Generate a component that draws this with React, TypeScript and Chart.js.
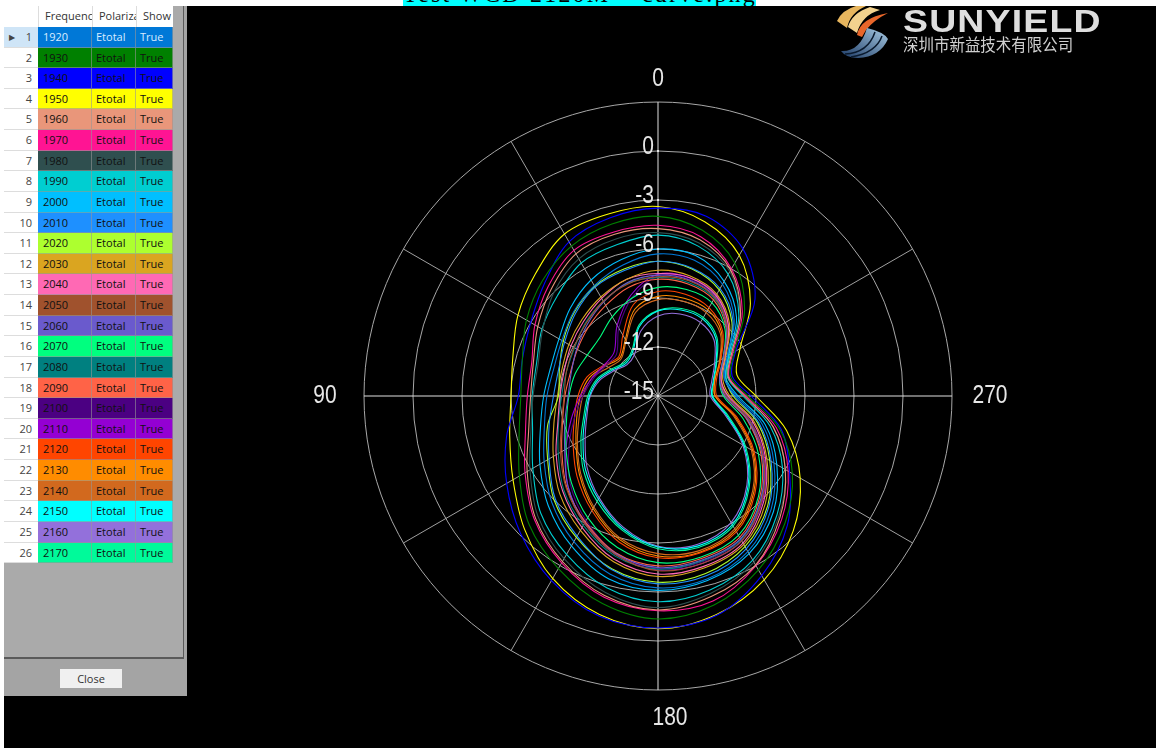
import React, { useEffect, useRef } from "react";
import { Chart, registerables } from "chart.js";

Chart.register(...registerables);

// Angles of the readings, counter-clockwise from the top of the plot
const angles = [0, 15, 30, 45, 60, 75, 90, 105, 120, 135, 150, 165, 180, 195, 210, 225, 240, 255, 270, 285, 300, 315, 330, 345];

const s1920 = [-6.3, -6.7, -7.2, -7.7, -8.2, -8.4, -8.2, -7.8, -6.95, -5.8, -4.7, -3.7, -3.25, -3.4, -4.0, -5.2, -6.8, -8.4, -10.2, -10.8, -10.1, -8.4, -7.1, -6.4];
const s1930 = [-4.0, -4.1, -4.4, -5.0, -5.7, -6.4, -6.6, -6.2, -5.2, -3.85, -2.8, -1.85, -1.35, -1.75, -2.7, -4.0, -5.5, -7.3, -9.5, -10.4, -9.6, -7.5, -5.6, -4.5];
const s1940 = [-3.5, -3.7, -4.1, -5.2, -6.0, -6.4, -6.45, -5.4, -4.3, -3.1, -1.95, -1.05, -0.8, -1.1, -2.3, -3.8, -5.7, -7.2, -9.3, -10.3, -9.5, -6.6, -4.6, -3.6];
const s1950 = [-3.4, -3.45, -3.55, -4.4, -5.1, -5.8, -6.0, -5.6, -4.75, -3.45, -2.1, -1.15, -0.75, -1.15, -2.0, -3.3, -4.95, -6.85, -9.0, -10.0, -9.2, -7.0, -5.05, -3.95];
const s1960 = [-4.75, -4.75, -4.95, -5.75, -6.5, -7.1, -7.2, -6.8, -5.75, -4.4, -3.3, -2.35, -1.9, -2.3, -3.05, -4.45, -6.0, -7.7, -9.7, -10.55, -9.8, -7.85, -6.1, -5.1];
const s1970 = [-4.55, -4.6, -4.7, -5.5, -6.3, -7.0, -7.0, -6.6, -5.6, -4.3, -3.2, -2.25, -1.85, -2.0, -3.0, -4.3, -5.8, -7.5, -9.6, -10.5, -9.7, -7.7, -6.0, -4.9];
const s1980 = [-5.0, -5.05, -5.3, -6.0, -6.85, -7.4, -7.35, -6.95, -5.95, -4.6, -3.5, -2.55, -2.05, -2.5, -3.25, -4.55, -6.0, -7.7, -9.7, -10.5, -9.75, -7.9, -6.2, -5.3];
const s1990 = [-5.15, -5.4, -5.6, -6.3, -6.8, -7.3, -7.3, -7.05, -6.15, -4.85, -3.8, -2.85, -2.4, -2.7, -3.4, -4.7, -6.2, -7.9, -9.8, -10.6, -9.9, -8.0, -6.4, -5.5];
const s2000 = [-6.0, -6.35, -6.8, -7.4, -8.0, -8.2, -8.0, -7.55, -6.65, -5.5, -4.4, -3.4, -3.1, -3.3, -3.85, -5.0, -6.6, -8.2, -10.1, -10.7, -10.0, -8.2, -6.9, -6.1];
const s2010 = [-6.75, -7.05, -7.3, -7.85, -8.4, -8.7, -8.6, -8.1, -7.3, -6.1, -5.1, -4.0, -3.5, -3.6, -4.2, -5.4, -7.0, -8.6, -10.3, -10.8, -10.1, -8.5, -7.4, -6.9];
const s2020 = [-6.75, -6.95, -7.25, -7.75, -8.3, -8.75, -8.9, -8.0, -7.2, -6.0, -5.0, -4.05, -3.6, -3.75, -4.35, -5.5, -7.1, -8.7, -10.4, -10.7, -10.0, -8.6, -7.5, -6.95];
const s2030 = [-7.3, -7.6, -8.0, -8.4, -8.7, -8.9, -8.85, -8.4, -7.6, -6.5, -5.5, -4.5, -3.95, -4.1, -4.5, -5.7, -7.3, -8.9, -10.6, -10.9, -10.2, -8.8, -7.8, -7.4];
const s2040 = [-7.5, -7.6, -8.1, -8.55, -8.85, -9.05, -9.0, -8.65, -7.8, -6.75, -5.7, -4.65, -4.1, -4.2, -4.6, -5.85, -7.4, -9.0, -10.7, -11.0, -10.25, -8.9, -7.9, -7.5];
const s2050 = [-7.7, -7.9, -8.3, -8.75, -9.05, -9.2, -9.25, -8.9, -8.1, -7.05, -6.0, -4.95, -4.3, -4.4, -4.75, -6.0, -7.55, -9.2, -10.8, -11.0, -10.3, -9.0, -8.05, -7.7];
const s2060 = [-7.6, -7.8, -8.35, -8.85, -9.25, -9.5, -9.5, -9.1, -8.4, -7.2, -6.0, -5.0, -4.5, -4.6, -4.9, -6.1, -7.6, -9.3, -10.9, -11.1, -10.4, -9.05, -8.0, -7.65];
const s2070 = [-8.35, -8.8, -9.4, -9.95, -10.0, -9.75, -9.55, -9.2, -8.5, -7.5, -6.4, -5.4, -4.8, -4.8, -5.15, -6.3, -7.9, -9.6, -11.0, -11.1, -10.4, -9.2, -8.4, -8.25];
const s2080 = [-7.75, -7.85, -8.3, -8.7, -9.1, -9.2, -9.1, -8.7, -7.95, -6.85, -5.85, -4.85, -4.4, -4.55, -4.85, -6.05, -7.6, -9.2, -10.8, -11.0, -10.3, -9.05, -8.1, -7.8];
const s2090 = [-7.85, -8.1, -8.6, -9.0, -9.3, -9.45, -9.3, -8.95, -8.2, -7.1, -6.1, -5.05, -4.6, -4.7, -5.0, -6.2, -7.7, -9.35, -10.9, -11.0, -10.35, -9.1, -8.2, -7.9];
const s2100 = [-7.65, -8.8, -10.2, -11.4, -11.3, -10.9, -10.4, -9.7, -8.7, -7.4, -6.2, -5.05, -4.45, -4.5, -4.85, -6.05, -7.6, -9.25, -10.85, -11.05, -10.3, -9.0, -7.95, -7.6];
const s2110 = [-7.55, -8.6, -10.0, -11.2, -11.2, -10.8, -10.25, -9.5, -8.5, -7.2, -6.05, -4.95, -4.35, -4.4, -4.75, -5.95, -7.5, -9.15, -10.75, -11.0, -10.25, -8.9, -7.85, -7.5];
const s2120 = [-8.6, -9.2, -10.7, -11.6, -11.2, -10.5, -10.1, -9.7, -9.0, -8.0, -6.9, -5.75, -5.1, -5.05, -5.4, -6.6, -8.2, -10.0, -11.4, -11.3, -10.55, -9.4, -8.75, -8.55];
const s2130 = [-8.9, -9.5, -11.0, -11.7, -11.3, -10.65, -10.25, -9.85, -9.2, -8.2, -7.05, -5.9, -5.2, -5.1, -5.5, -6.7, -8.3, -10.1, -11.5, -11.4, -10.6, -9.5, -8.9, -8.8];
const s2140 = [-9.1, -9.7, -11.1, -11.8, -11.5, -10.8, -10.4, -10.0, -9.3, -8.3, -7.15, -6.0, -5.35, -5.2, -5.6, -6.8, -8.4, -10.2, -11.5, -11.4, -10.65, -9.6, -9.1, -9.0];
const s2150 = [-9.8, -10.6, -11.9, -12.2, -11.8, -11.2, -10.8, -10.4, -9.7, -8.7, -7.7, -6.6, -5.75, -5.5, -5.9, -7.2, -8.9, -10.7, -11.7, -11.5, -10.9, -10.0, -9.55, -9.55];
const s2160 = [-10.1, -10.9, -12.1, -12.3, -11.9, -11.3, -10.85, -10.5, -9.85, -8.85, -7.8, -6.7, -5.8, -5.6, -6.05, -7.3, -9.0, -10.8, -11.8, -11.6, -11.0, -10.15, -9.8, -9.8];
const s2170 = [-9.75, -10.5, -11.8, -12.1, -11.7, -11.1, -10.7, -10.3, -9.55, -8.55, -7.55, -6.5, -5.65, -5.4, -5.8, -7.1, -8.8, -10.6, -11.65, -11.45, -10.85, -9.9, -9.45, -9.45];

const frequencies = [1920, 1930, 1940, 1950, 1960, 1970, 1980, 1990, 2000, 2010, 2020, 2030, 2040, 2050, 2060, 2070, 2080, 2090, 2100, 2110, 2120, 2130, 2140, 2150, 2160, 2170];
const seriesValues = [s1920, s1930, s1940, s1950, s1960, s1970, s1980, s1990, s2000, s2010, s2020, s2030, s2040, s2050, s2060, s2070, s2080, s2090, s2100, s2110, s2120, s2130, s2140, s2150, s2160, s2170];
const colors = ["#0078d7", "#008000", "#0000ff", "#ffff00", "#e9967a", "#ff1493", "#2f4f4f", "#00ced1", "#00bfff", "#1e90ff", "#adff2f", "#daa520", "#ff69b4", "#a0522d", "#6a5acd", "#00ff7f", "#008080", "#ff6347", "#4b0082", "#9400d3", "#ff4500", "#ff8c00", "#d2691e", "#00ffff", "#9370db", "#00fa9a"];
const columnHeaders = ["Frequency", "Polarization", "Show"];
const polarization = "Etotal";
const showFlag = "True";
const radialTicks = [0, -3, -6, -9, -12, -15];
const compassLabels = [0, 90, 180, 270];

// The radar scale runs clockwise; the reference runs counter-clockwise.
const slotAngle = (j: number) => (360 - j * 15) % 360;
const toSlots = (v: number[]) => v.map((_, j) => v[(v.length - j) % v.length]);

function narrowText(ctx: any, text: string, x: number, y: number) {
  ctx.save();
  ctx.translate(x, y);
  ctx.scale(0.84, 1);
  ctx.fillText(text, 0, 0);
  ctx.restore();
}

const labelPlugin = {
  id: "polarText",
  afterDraw(chart: any) {
    const scale = chart.scales.r;
    const ctx = chart.ctx;
    ctx.save();
    ctx.fillStyle = "#e6e6e6";
    ctx.textBaseline = "middle";
    ctx.font = '25px "Liberation Sans", sans-serif';
    ctx.textAlign = "right";
    radialTicks.forEach((t) => {
      const p = scale.getPointPositionForValue(0, t);
      narrowText(ctx, String(t), p.x - 4, p.y - 4);
      ctx.fillRect(p.x - 1, p.y - 1, 2, 2);
    });
    ctx.textAlign = "center";
    const dist: Record<number, number> = { 0: 317, 90: 333, 180: 322, 270: 332 };
    compassLabels.forEach((a) => {
      const j = angles.findIndex((_, k) => slotAngle(k) === a);
      const p = scale.getPointPosition(j, dist[a]);
      narrowText(ctx, String(a), p.x + (a === 180 ? 12 : 0), p.y);
    });
    ctx.restore();
  },
};

const rowTop = (i: number) => Math.round(27 + i * 20.62);
const cols = [
  { x: 38, w: 54 },
  { x: 92, w: 44 },
  { x: 136, w: 37 },
];

function box(left: number, top: number, width: number, height: number, extra: React.CSSProperties = {}): React.CSSProperties {
  return { position: "absolute", left, top, width, height, boxSizing: "border-box", overflow: "hidden", ...extra };
}

function Panel() {
  const font = '"Open Sans", "Noto Sans", sans-serif';
  const cell: React.CSSProperties = { fontFamily: font, fontSize: 11, lineHeight: "20px", paddingLeft: 4, whiteSpace: "nowrap" };
  return (
    <>
      <div style={box(4, 6, 183, 690, { background: "#a4a4a4" })} />
      <div style={box(4, 6, 180, 653, { background: "#aaaaaa", borderRight: "1px solid #5a5a5a", borderBottom: "2px solid #5a5a5a" })} />
      <div style={box(4, 6, 34, 21, { background: "#fff" })} />
      {columnHeaders.map((h, c) => (
        <div key={h} style={box(cols[c].x, 6, cols[c].w, 21, { ...cell, background: "#fff", color: "#333", borderLeft: "1px solid #ddd", paddingLeft: 6 })}>{h}</div>
      ))}
      {frequencies.map((f, i) => {
        const top = rowTop(i);
        const h = rowTop(i + 1) - top;
        const textColor = i === 0 ? "#d8ecff" : "#111";
        const common = { ...cell, background: colors[i], color: textColor, borderRight: "1px solid rgba(150,150,150,.6)", borderBottom: "1px solid rgba(150,150,150,.6)" };
        return (
          <React.Fragment key={f}>
            <div style={box(4, top, 34, h, { ...cell, background: i === 0 ? "#cfe5f7" : "#fff", color: "#444", textAlign: "right", paddingRight: 6, paddingLeft: 0, borderBottom: "1px solid #ddd" })}>
              {i === 0 ? <span style={{ position: "absolute", left: 5, fontSize: 8 }}>▶</span> : null}
              {i + 1}
            </div>
            <div style={box(cols[0].x, top, cols[0].w, h, { ...common, paddingLeft: 5 })}>{f}</div>
            <div style={box(cols[1].x, top, cols[1].w, h, common)}>{polarization}</div>
            <div style={box(cols[2].x, top, cols[2].w, h, common)}>{showFlag}</div>
          </React.Fragment>
        );
      })}
      <div style={box(60, 669, 62, 19, { background: "#f0f0f0", color: "#333", fontFamily: font, fontSize: 11, lineHeight: "19px", textAlign: "center" })}>Close</div>
    </>
  );
}

function Logo() {
  return (
    <>
      <svg style={{ position: "absolute", left: 830, top: 6 }} width={70} height={56} viewBox="830 6 70 56">
        <defs>
          <linearGradient id="blueG" x1="0" y1="1" x2="1" y2="0">
            <stop offset="0" stopColor="#1d3b66" />
            <stop offset="1" stopColor="#a8cbe4" />
          </linearGradient>
        </defs>
        <path d="M837,21 Q842,10 856,6 L866,6 Q850,13 847,28 Z" fill="#e8b65e" />
        <path d="M848,27 Q852,13 870,7 L880,10 Q862,15 857,33 Z" fill="#f3d28e" />
        <path d="M857,35 Q860,18 888,13 Q874,20 866,30 L862,37 Z" fill="#e8662a" />
        <path d="M841,51 Q860,52 867,28 Q884,32 888,39 Q880,57 858,58 Q846,58 841,51 Z" fill="url(#blueG)" />
        <path d="M845,54 Q868,53 875,32 M851,57 Q876,53 882,36" stroke="#0a1a2e" strokeWidth={1.5} fill="none" />
      </svg>
      <div style={{ position: "absolute", left: 903, top: 3, color: "#dedede", fontFamily: '"Liberation Sans", sans-serif', fontWeight: 700, fontSize: 32, lineHeight: "36px", transform: "scaleX(1.17)", transformOrigin: "left top", whiteSpace: "nowrap", letterSpacing: 1, height: 33, overflow: "hidden" }}>SUNYIELD</div>
      <div style={{ position: "absolute", left: 903, top: 33, color: "#cfcfcf", fontFamily: '"Noto Sans CJK SC", sans-serif', fontSize: 17, lineHeight: "22px", transform: "scaleX(0.91)", transformOrigin: "left top", whiteSpace: "nowrap" }}>深圳市新益技术有限公司</div>
    </>
  );
}

export default function App() {
  const ref = useRef<HTMLCanvasElement>(null);
  useEffect(() => {
    const chart = new Chart(ref.current as HTMLCanvasElement, {
      type: "radar",
      data: {
        labels: toSlots(angles).map(String),
        datasets: seriesValues.map((v, i) => ({
          label: String(frequencies[i]),
          data: toSlots(v),
          borderColor: colors[i],
          backgroundColor: "transparent",
          borderWidth: 1.1,
          pointRadius: 0,
          fill: false,
          tension: 0.33,
        })),
      },
      options: {
        responsive: false,
        animation: false,
        layout: { padding: { left: 360, right: 204, top: 96, bottom: 58 } },
        plugins: { legend: { display: false }, title: { display: false }, tooltip: { enabled: false } },
        scales: {
          r: {
            min: -15,
            max: 3,
            ticks: { stepSize: 3, display: false },
            pointLabels: { display: false },
            grid: { circular: true, color: "#a8a8a8", lineWidth: 1 },
            angleLines: {
              display: true,
              color: (c: any) => (slotAngle(c.index) % 90 === 0 ? "#e0e0e0" : "#a0a0a0"),
              lineWidth: (c: any) => (slotAngle(c.index) % 30 === 0 ? 1 : 0),
            },
          },
        },
      },
      plugins: [labelPlugin],
    } as any);
    return () => chart.destroy();
  }, []);
  return (
    <div style={{ position: "fixed", left: 0, top: 0, width: 1156, height: 748, background: "#fff", overflow: "hidden", filter: "blur(0.4px)" }}>
      <div style={box(403, 0, 353, 6, { background: "#00ffff" })} />
      <div style={{ position: "absolute", left: 403, top: -18, width: 360, height: 24, overflow: "hidden", color: "#000", fontFamily: '"Liberation Serif", serif', fontSize: 24, lineHeight: "24px", whiteSpace: "nowrap", letterSpacing: 2.2 }}>Test WCD 2120M ~ curve.png</div>
      <div style={box(4, 6, 1152, 742, { background: "#000" })} />
      <canvas ref={ref} width={1152} height={742} style={{ position: "absolute", left: 4, top: 6 }} />
      <Panel />
      <Logo />
    </div>
  );
}
